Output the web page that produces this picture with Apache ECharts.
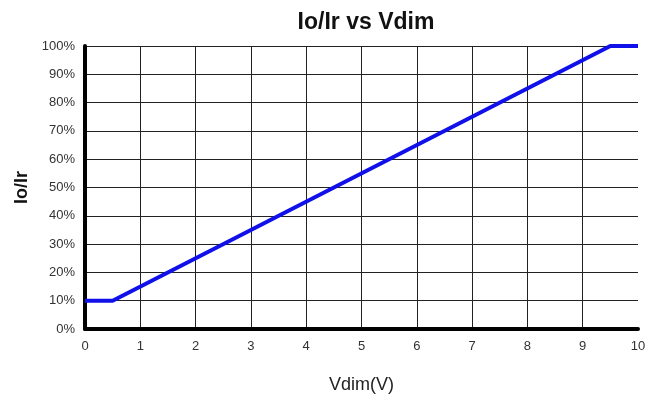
<!DOCTYPE html>
<html>
<head>
<meta charset="utf-8">
<script src="https://cdn.jsdelivr.net/npm/echarts@6/dist/echarts.min.js"></script>
<style>
  html, body { margin: 0; padding: 0; background: #fff; }
  #chart { width: 659px; height: 400px; }
</style>
</head>
<body>
<div id="chart"></div>
<script>
const vdim = [0, 0.5, 9.5, 10];
const ratio = [10, 10, 100, 100];

const chart = echarts.init(document.getElementById('chart'));
chart.setOption({
  animation: false,
  textStyle: { fontFamily: 'Liberation Sans, Arial, sans-serif' },
  title: {
    text: 'Io/Ir vs Vdim',
    left: 361,
    top: 6,
    textAlign: 'center',
    textStyle: { fontSize: 23, fontWeight: 'bold', color: '#111' }
  },
  grid: { left: 85, right: 21, top: 46, bottom: 71 },
  xAxis: {
    type: 'value',
    min: 0,
    max: 10,
    interval: 1,
    name: 'Vdim(V)',
    nameLocation: 'middle',
    nameGap: 47,
    nameTextStyle: { fontSize: 18, color: '#222' },
    axisLine: { lineStyle: { color: '#000', width: 4 } },
    axisTick: { show: false },
    axisLabel: { fontSize: 13, color: '#333', margin: 11 },
    splitLine: { show: true, showMaxLine: false, lineStyle: { color: '#222', width: 1 } }
  },
  yAxis: {
    type: 'value',
    min: 0,
    max: 100,
    interval: 10,
    name: 'Io/Ir',
    nameLocation: 'middle',
    nameGap: 53,
    nameTextStyle: { fontSize: 18, fontWeight: 'bold', color: '#111' },
    axisLine: { show: true, lineStyle: { color: '#000', width: 4 } },
    axisTick: { show: false },
    axisLabel: { fontSize: 13, color: '#333', margin: 10, formatter: '{value}%' },
    splitLine: { show: true, lineStyle: { color: '#222', width: 1 } }
  },
  series: [{
    type: 'line',
    data: vdim.map((v, i) => [v, ratio[i]]),
    symbol: 'none',
    lineStyle: { color: '#1010e8', width: 4 },
    z: 5
  }]
});
</script>
</body>
</html>
